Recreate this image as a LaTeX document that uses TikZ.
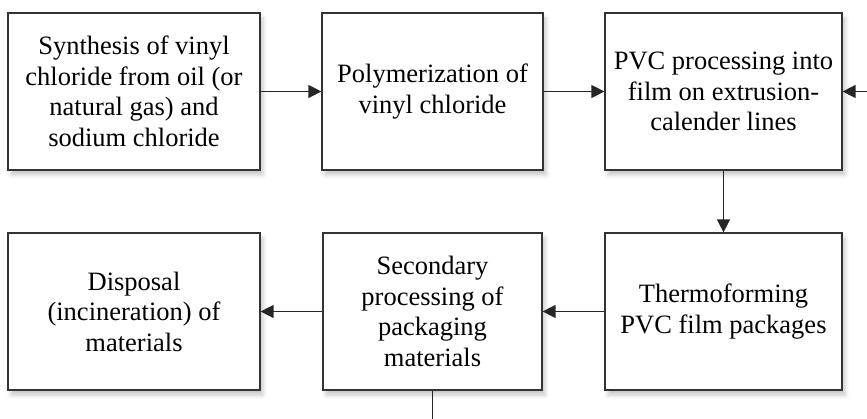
\documentclass[tikz,border=0pt]{standalone}
\usepackage{fontspec}
\setmainfont{Liberation Serif}
\usetikzlibrary{arrows.meta,shadows.blur}

\tikzset{
  stage/.style={
    draw=black!80, line width=1.2pt, fill=white, rectangle,
    minimum height=157pt, inner sep=0pt, align=center,
    font=\fontsize{26.5}{30.5}\selectfont,
    blur shadow={shadow xshift=3pt, shadow yshift=-5pt,
                 shadow blur radius=4pt, shadow opacity=22}
  },
  flow/.style={draw=black!85, line width=1.3pt,
               -{Triangle[length=13pt,width=13pt]}},
  plain/.style={draw=black!85, line width=1.3pt}
}

\begin{document}
\begin{tikzpicture}[x=1pt,y=-1pt]
  \useasboundingbox (0,0) rectangle (867,419);

  % top row
  \node[stage, minimum width=252pt] (b1) at (134,91.5)
    {Synthesis of vinyl\\chloride from oil (or\\natural gas) and\\sodium chloride};
  \node[stage, minimum width=221pt] (b2) at (432.5,91.5)
    {Polymerization of\\vinyl chloride};
  \node[stage, minimum width=237pt] (b3) at (723.5,91.5)
    {PVC processing into\\film on extrusion-\\calender lines};

  % bottom row
  \node[stage, minimum width=237pt] (b4) at (723.5,311.5)
    {Thermoforming\\PVC film packages};
  \node[stage, minimum width=219pt] (b6) at (432.5,311.5)
    {Secondary\\processing of\\packaging\\materials};
  \node[stage, minimum width=252pt] (b5) at (134,311.5)
    {Disposal\\(incineration) of\\materials};

  % free ends of the open connectors
  \coordinate (feed) at (867,91.5);
  \coordinate (out) at (432.5,419);

  % connectors
  \draw[flow] (b1) -- (b2);
  \draw[flow] (b2) -- (b3);
  \draw[flow] (feed) -- (b3);
  \draw[flow] (b3) -- (b4);
  \draw[flow] (b4) -- (b6);
  \draw[flow] (b6) -- (b5);
  \draw[plain] (b6) -- (out);
\end{tikzpicture}
\end{document}
